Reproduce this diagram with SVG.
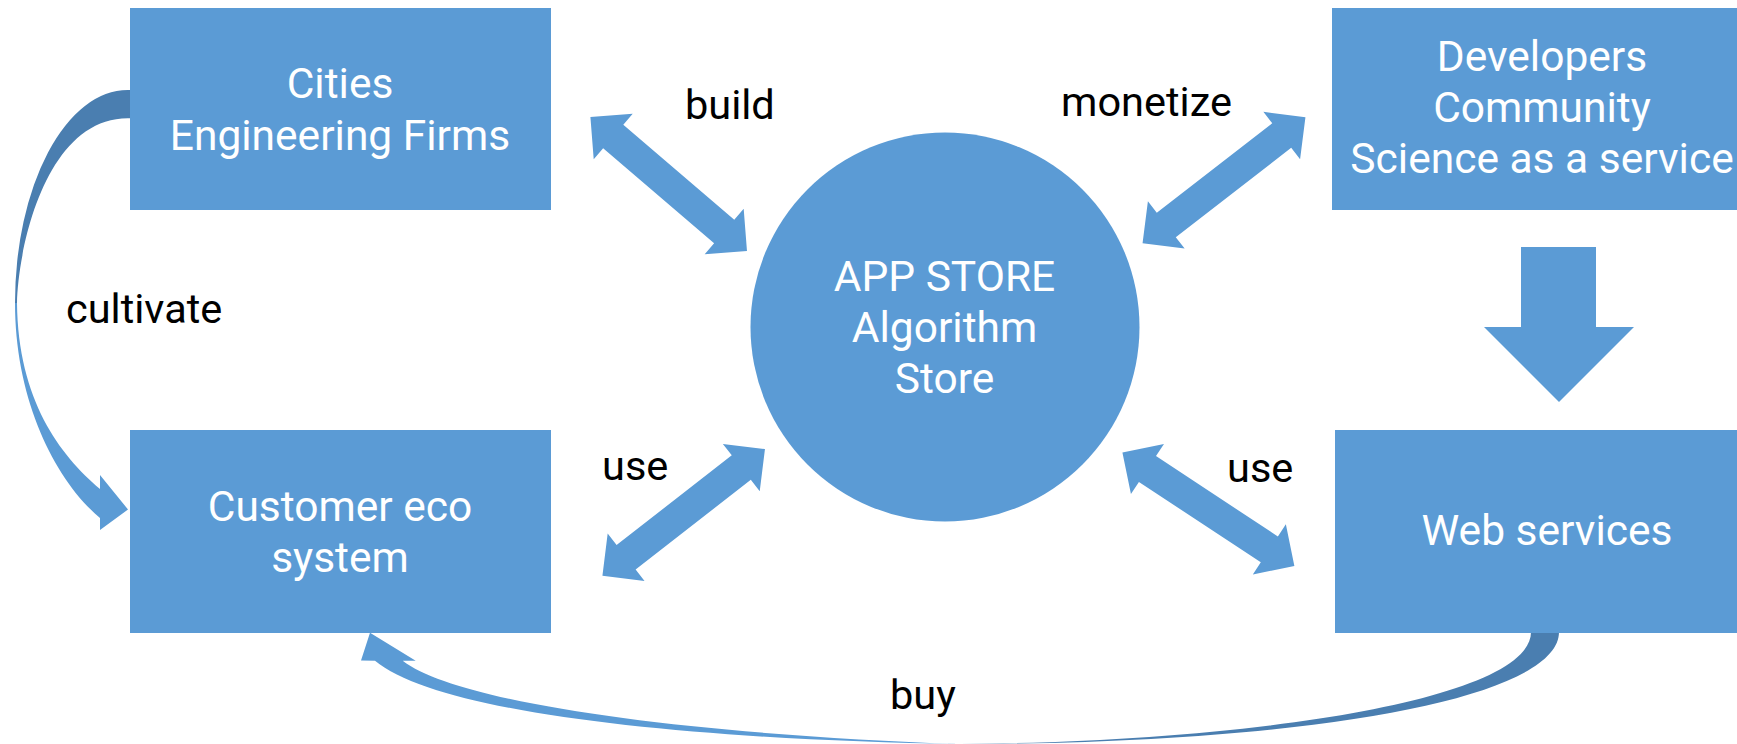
<svg xmlns="http://www.w3.org/2000/svg" xmlns:xlink="http://www.w3.org/1999/xlink" width="1737" height="744" viewBox="0 0 1737 744">
  <style>
    .box { fill: #5b9bd5; }
    .node-text { font-family: Roboto, "Liberation Sans", sans-serif; font-size: 42.5px; font-weight: 400; fill: #ffffff; text-anchor: middle; }
    .label { font-family: Roboto, "Liberation Sans", sans-serif; font-size: 41.5px; font-weight: 400; fill: #000000; }
    .flow { fill: #5b9bd5; }
    .flow-back { fill: #4a7eb0; }
  </style>
  <defs>
    <!-- double-headed block arrow, centred on the origin, tips at x = ±103 -->
    <path id="dbl" d="M-103,0 L-73,-30 L-73,-15.5 L73,-15.5 L73,-30 L103,0 L73,30 L73,15.5 L-73,15.5 L-73,30 Z"/>
  </defs>

  <g id="connectors">
    <!-- build -->
    <use xlink:href="#dbl" class="flow" transform="translate(668.7,184) rotate(40.53)"/>
    <!-- monetize -->
    <use xlink:href="#dbl" class="flow" transform="translate(1224,180.2) rotate(-37.75)"/>
    <!-- use (customer side) -->
    <use xlink:href="#dbl" class="flow" transform="translate(683.7,512.4) rotate(-37.91)"/>
    <!-- use (web services side) -->
    <use xlink:href="#dbl" class="flow" transform="translate(1208.4,509.2) rotate(33.41)"/>

    <!-- developers to web services -->
    <polygon class="flow" points="1521,247 1596,247 1596,327 1634,327 1559,402 1484,327 1521,327"/>

    <!-- cultivate: curved arrow from Cities down to Customer eco system -->
    <path class="flow-back" d="M131,90 L127.7,90 A112.7,213 0 0 0 15,303 L17,303 C18,250 45,118.3 127.7,118.3 L131,118.3 Z"/>
    <path class="flow" d="M15,303 C15,400 55,480 100,518 L100,530 L128,509.5 L100,475 L100,489 C60,455 18,400 17,303 Z"/>

    <!-- buy: curved arrow from Web services back to Customer eco system -->
    <path class="flow-back" d="M1559,632 C1559,700 1300,744 960,744 C1250,742 1531,700 1531,632 Z"/>
    <path class="flow" d="M960,744 C700,740 440,715 375,660.7 L361,660.5 L370,632.7 L415.7,660.7 L402.7,660.7 C460,705 700,735 960,744 Z"/>
  </g>

  <g id="node-cities">
    <rect class="box" x="130" y="8" width="421" height="202"/>
    <text class="node-text" x="340" y="98">Cities</text>
    <text class="node-text" x="340" y="150">Engineering Firms</text>
  </g>

  <g id="node-developers">
    <rect class="box" x="1332" y="8" width="421" height="202"/>
    <text class="node-text" x="1542" y="71">Developers</text>
    <text class="node-text" x="1542" y="122">Community</text>
    <text class="node-text" x="1542" y="173">Science as a service</text>
  </g>

  <g id="node-appstore">
    <circle class="box" cx="945" cy="327" r="194.5"/>
    <text class="node-text" x="944.5" y="291">APP STORE</text>
    <text class="node-text" x="944.5" y="342">Algorithm</text>
    <text class="node-text" x="944.5" y="393">Store</text>
  </g>

  <g id="node-customer">
    <rect class="box" x="130" y="430" width="421" height="203"/>
    <text class="node-text" x="340" y="521">Customer eco</text>
    <text class="node-text" x="340" y="572">system</text>
  </g>

  <g id="node-webservices">
    <rect class="box" x="1335" y="430" width="421" height="203"/>
    <text class="node-text" x="1547" y="545">Web services</text>
  </g>

  <g id="labels">
    <text class="label" x="66" y="323">cultivate</text>
    <text class="label" x="685" y="119">build</text>
    <text class="label" x="1061" y="116">monetize</text>
    <text class="label" x="602" y="480">use</text>
    <text class="label" x="1227" y="481.5">use</text>
    <text class="label" x="890" y="709">buy</text>
  </g>
</svg>
